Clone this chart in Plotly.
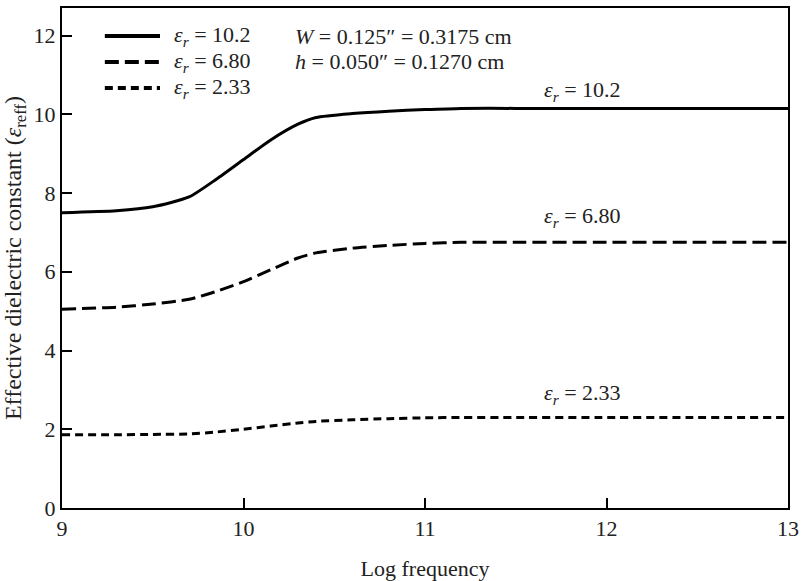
import plotly.graph_objects as go

log_freq = [9.0, 9.3, 9.5, 9.7, 9.85, 10.0, 10.15, 10.3, 10.4, 10.6, 10.8, 11.0, 11.2, 11.5, 12.0, 12.5, 13.0]
er_102 = [7.50, 7.55, 7.65, 7.90, 8.35, 8.85, 9.35, 9.75, 9.92, 10.02, 10.08, 10.12, 10.15, 10.15, 10.15, 10.15, 10.15]
er_680 = [5.05, 5.10, 5.18, 5.30, 5.50, 5.75, 6.05, 6.35, 6.48, 6.60, 6.67, 6.72, 6.75, 6.75, 6.75, 6.75, 6.75]
er_233 = [1.86, 1.86, 1.87, 1.88, 1.93, 2.00, 2.08, 2.16, 2.20, 2.24, 2.27, 2.29, 2.30, 2.30, 2.30, 2.30, 2.30]

series_names = ["<i>ε</i><sub><i>r</i></sub> = 10.2", "<i>ε</i><sub><i>r</i></sub> = 6.80", "<i>ε</i><sub><i>r</i></sub> = 2.33"]
geometry_notes = ["<i>W</i> = 0.125″ = 0.3175 cm", "<i>h</i> = 0.050″ = 0.1270 cm"]
x_ticks = [9, 10, 11, 12, 13]
y_ticks = [0, 2, 4, 6, 8, 10, 12]

FONT = "Liberation Serif"
TXT = "#222222"
FS = 22

fig = go.Figure()
dashes = ["solid", "14px,6px", "8px,5px"]
for name, ys, dash in zip(series_names, [er_102, er_680, er_233], dashes):
    fig.add_trace(go.Scatter(x=log_freq, y=ys, mode="lines", name=name, showlegend=False,
                             line=dict(color="black", width=3, dash=dash, shape="spline", smoothing=0.6)))

# curve labels
for name, yv in zip(series_names, [10.6, 7.4, 2.9]):
    fig.add_annotation(x=11.87, y=yv, text=name, showarrow=False, xref="x", yref="y",
                       font=dict(family=FONT, size=FS, color=TXT))

# legend key (drawn as a text key in the top-left corner)
legend_rows = [0.944, 0.892, 0.840]
for name, dash, ry in zip(series_names, dashes, legend_rows):
    fig.add_shape(type="line", xref="paper", yref="paper", x0=0.059, x1=0.135, y0=ry, y1=ry,
                  line=dict(color="black", width=4, dash=dash))
    fig.add_annotation(x=0.152, y=ry, xref="paper", yref="paper", xanchor="left", yanchor="middle",
                       showarrow=False, text=name, font=dict(family=FONT, size=FS, color=TXT))

for note, ry in zip(geometry_notes, legend_rows[:2]):
    fig.add_annotation(x=0.318, y=ry, xref="paper", yref="paper", xanchor="left", yanchor="middle",
                       showarrow=False, text=note, font=dict(family=FONT, size=FS, color=TXT))

axis_common = dict(showline=True, linecolor="black", linewidth=2, mirror=True, ticks="inside",
                   ticklen=10, tickwidth=1.5, tickcolor="black", showgrid=False, zeroline=False,
                   automargin=False, tickfont=dict(family=FONT, size=FS, color=TXT))

fig.update_layout(
    width=801, height=581,
    margin=dict(l=62, r=13, t=8, b=73),
    plot_bgcolor="white", paper_bgcolor="white",
    showlegend=False,
    xaxis=dict(range=[9, 13], tickvals=x_ticks, ticktext=[str(v) for v in x_ticks],
               title=dict(text="Log frequency", font=dict(family=FONT, size=FS, color=TXT), standoff=24),
               **axis_common),
    yaxis=dict(range=[0, 12.7], tickvals=y_ticks, ticktext=[str(v) for v in y_ticks],
               title=dict(text="Effective dielectric constant (<i>ε</i><sub>reff</sub>)", font=dict(family=FONT, size=24, color=TXT), standoff=6),
               **axis_common),
)

fig.write_html("out.html", config={"displayModeBar": False},
               post_script="document.body.style.margin='0';document.body.style.padding='0';")
